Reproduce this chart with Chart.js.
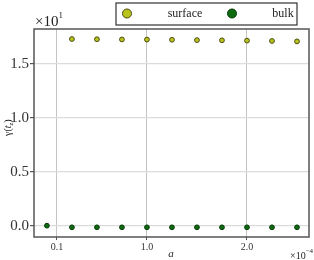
<!DOCTYPE html>
<html>
<head>
<meta charset="utf-8">
<script src="https://cdn.jsdelivr.net/npm/chart.js@4/dist/chart.umd.min.js"></script>
<style>
  html, body { margin: 0; padding: 0; background: #fff; }
  #wrap { width: 314px; height: 260px; position: relative; }
</style>
</head>
<body>
<div id="wrap"><canvas id="chart"></canvas></div>
<script>
// values are in units of 1e-4 (x) and 1e1 (y)
var aValues = [0, 0.25, 0.5, 0.75, 1.0, 1.25, 1.5, 1.75, 2.0, 2.25, 2.5];
var surfaceA = [0.25, 0.5, 0.75, 1.0, 1.25, 1.5, 1.75, 2.0, 2.25, 2.5];
var surfaceVals = [1.732, 1.73, 1.728, 1.727, 1.725, 1.722, 1.72, 1.717, 1.714, 1.71];
var bulkVals = [0.0, -0.015, -0.015, -0.015, -0.015, -0.015, -0.015, -0.015, -0.015, -0.015, -0.015];
var xTicks = [0.1, 1.0, 2.0];
var yTicks = [0.0, 0.5, 1.0, 1.5];
var seriesNames = ["surface", "bulk"];

var serif = "'Liberation Serif', 'DejaVu Serif', serif";

function pts(xs, ys) {
    return xs.map(function(x, i) { return { x: x, y: ys[i] }; });
}

// draw pieces of text one after the other, [text, font, dy]
function runs(ctx, x, y, parts) {
    parts.forEach(function(p) {
        ctx.font = p[1];
        ctx.fillText(p[0], x, y + p[2]);
        x += ctx.measureText(p[0]).width;
    });
}

// frame, legend box, exponent labels, axis titles
var extras = {
    id: "extras",
    afterDraw: function(chart) {
        var ctx = chart.ctx, a = chart.chartArea;
        ctx.save();
        ctx.strokeStyle = "#555";
        ctx.lineWidth = 1.5;
        ctx.strokeRect(a.left, a.top, a.right - a.left, a.bottom - a.top);

        ctx.fillStyle = "#222";
        ctx.textBaseline = "alphabetic";
        ctx.textAlign = "left";
        runs(ctx, 35, 26, [["\u00d710", "15px " + serif, 0], ["1", "9px " + serif, -8]]);
        runs(ctx, 290, 259, [["\u00d710", "10px " + serif, 0], ["\u22124", "7px " + serif, -6]]);

        ctx.font = "italic 11px " + serif;
        ctx.textAlign = "center";
        ctx.fillText("a", 171, 257);

        ctx.textAlign = "left";
        ctx.translate(11, 125);
        ctx.rotate(-Math.PI / 2);
        runs(ctx, -11, 0, [
            ["\u03b3(", "10px " + serif, 0],
            ["t", "italic 10px " + serif, 0],
            ["z", "italic 7px " + serif, 2],
            [")", "10px " + serif, 0]
        ]);
        ctx.restore();

        // legend
        ctx.save();
        ctx.fillStyle = "#fff";
        ctx.fillRect(116, 3, 181, 22);
        ctx.strokeStyle = "#333";
        ctx.lineWidth = 1.2;
        ctx.strokeRect(116, 3, 181, 22);
        var mx = [127, 232], tx = [185, 283];
        chart.data.datasets.forEach(function(ds, i) {
            ctx.beginPath();
            ctx.arc(mx[i], 13.5, 4.5, 0, Math.PI * 2);
            ctx.fillStyle = ds.backgroundColor;
            ctx.fill();
            ctx.strokeStyle = ds.borderColor;
            ctx.lineWidth = 1;
            ctx.stroke();
            ctx.fillStyle = "#222";
            ctx.font = "12px " + serif;
            ctx.textAlign = "center";
            ctx.textBaseline = "middle";
            ctx.fillText(ds.label, tx[i], 14);
        });
        ctx.restore();
    }
};

new Chart(document.getElementById("chart"), {
    type: "scatter",
    data: {
        datasets: [{
            label: seriesNames[0],
            data: pts(surfaceA, surfaceVals),
            backgroundColor: "#b8c41a",
            borderColor: "#4b4a12",
            borderWidth: 1,
            pointRadius: 2.4
        }, {
            label: seriesNames[1],
            data: pts(aValues, bulkVals),
            backgroundColor: "#0d6a10",
            borderColor: "#063a08",
            borderWidth: 1,
            pointRadius: 2.4
        }]
    },
    options: {
        responsive: true,
        maintainAspectRatio: false,
        animation: false,
        layout: { padding: { top: 29, right: 2, left: 0, bottom: 0 } },
        plugins: {
            legend: { display: false },
            tooltip: { enabled: false }
        },
        scales: {
            x: {
                type: "linear",
                min: -0.129,
                max: 2.62,
                afterBuildTicks: function(scale) {
                    scale.ticks = xTicks.map(function(v) { return { value: v }; });
                },
                afterFit: function(scale) { scale.height = 23; },
                ticks: {
                    padding: 1,
                    color: "#333",
                    font: { family: serif, size: 10 },
                    callback: function(v) { return v.toFixed(1); }
                },
                grid: { color: "#c4c4c4", tickColor: "#555", tickLength: 3, lineWidth: 1 },
                border: { display: false }
            },
            y: {
                min: -0.105,
                max: 1.825,
                afterBuildTicks: function(scale) {
                    scale.ticks = yTicks.map(function(v) { return { value: v }; });
                },
                afterFit: function(scale) { scale.width = 34; },
                ticks: {
                    padding: 1,
                    color: "#333",
                    font: { family: serif, size: 15 },
                    callback: function(v) { return v.toFixed(1); }
                },
                grid: { color: "#dcdcdc", tickColor: "#555", tickLength: 4, lineWidth: 1.2 },
                border: { display: false }
            }
        }
    },
    plugins: [extras]
});
</script>
</body>
</html>
